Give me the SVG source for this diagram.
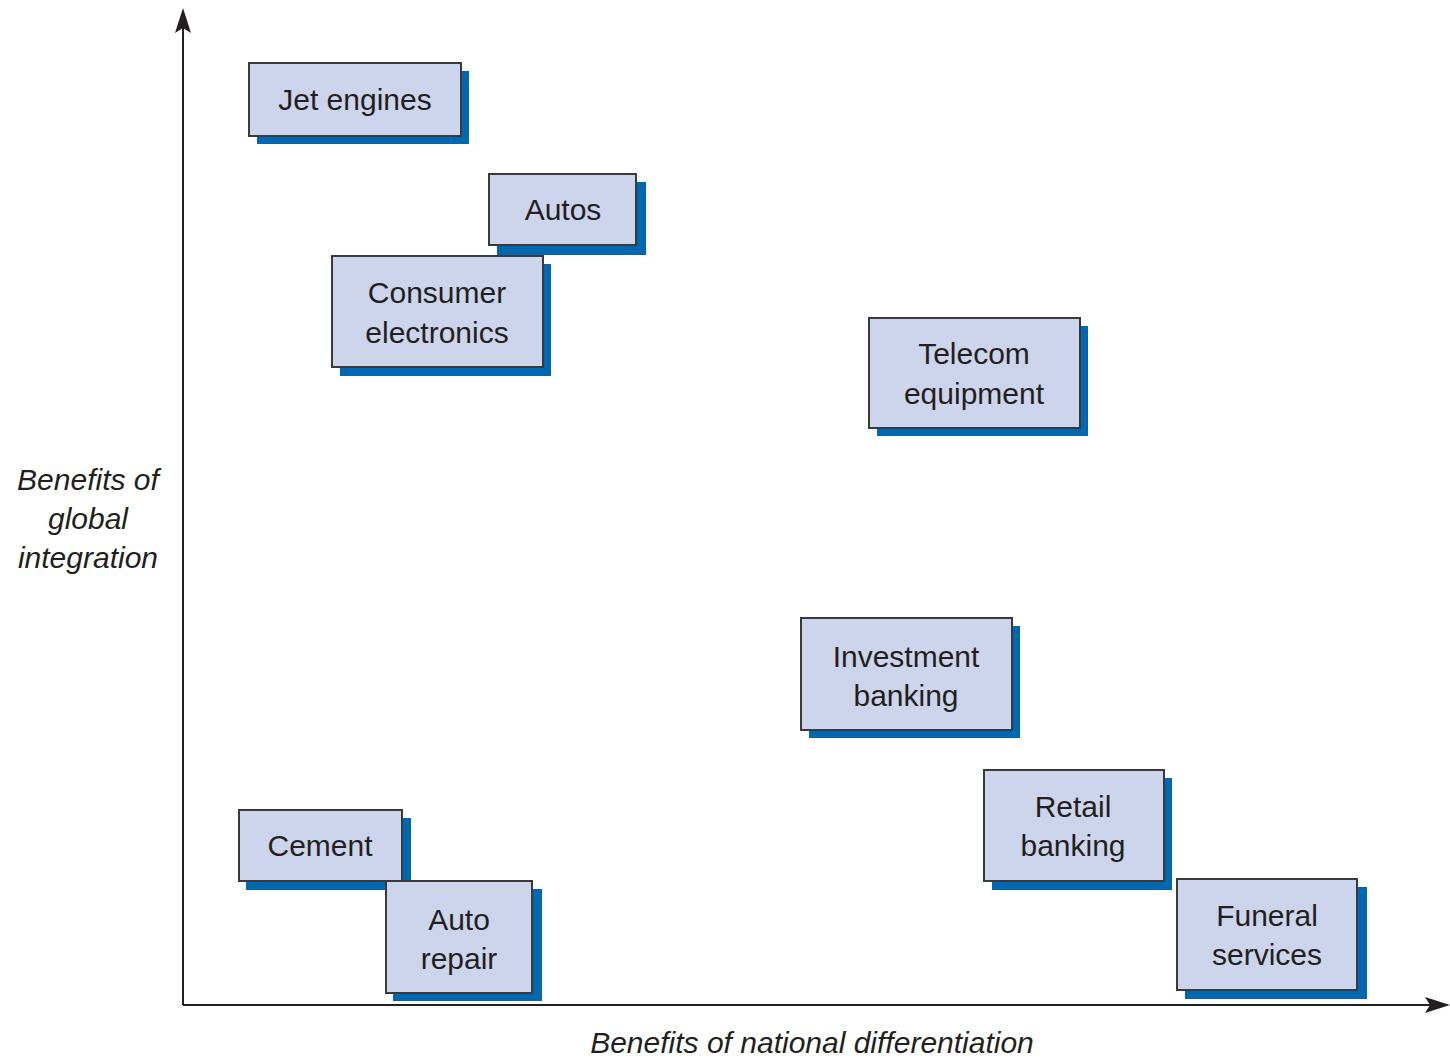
<svg xmlns="http://www.w3.org/2000/svg" width="1450" height="1059" viewBox="0 0 1450 1059">
<style>
.sh{fill:#0067b1}
.bx{fill:#cdd5ec;stroke:#3a3a3a;stroke-width:2}
.t{font-family:"Liberation Sans",Arial,sans-serif;font-size:30px;fill:#231f20;text-anchor:middle}
.ax{font-family:"Liberation Sans",Arial,sans-serif;font-size:30px;font-style:italic;fill:#231f20;text-anchor:middle}
.axis{stroke:#231f20;stroke-width:2;fill:none}
</style>
<rect width="1450" height="1059" fill="#fff"/>
<g id="axes">
<path class="axis" d="M183,1005 V20"/>
<path d="M183,8 L191,33 L183,28 L175,33 Z" fill="#231f20"/>
<path class="axis" d="M183,1005 H1438"/>
<path d="M1450,1005 L1425,997 L1430,1005 L1425,1013 Z" fill="#231f20"/>
</g>
<g id="jet-engines">
<rect class="sh" x="257" y="71" width="212" height="73"/>
<rect class="bx" x="249" y="63" width="212" height="73"/>
<text class="t" x="355" y="110">Jet engines</text>
</g>
<g id="autos">
<rect class="sh" x="497" y="182" width="149" height="73"/>
<rect class="bx" x="489" y="174" width="147" height="71"/>
<text class="t" x="563" y="220">Autos</text>
</g>
<g id="consumer-electronics">
<rect class="sh" x="340" y="264" width="211" height="112"/>
<rect class="bx" x="332" y="256" width="211" height="111"/>
<text class="t" x="437" y="303">Consumer</text>
<text class="t" x="437" y="343">electronics</text>
</g>
<g id="telecom-equipment">
<rect class="sh" x="877" y="326" width="211" height="110"/>
<rect class="bx" x="869" y="318" width="211" height="110"/>
<text class="t" x="974" y="364">Telecom</text>
<text class="t" x="974" y="404">equipment</text>
</g>
<g id="investment-banking">
<rect class="sh" x="809" y="626" width="211" height="112"/>
<rect class="bx" x="801" y="618" width="211" height="112"/>
<text class="t" x="906" y="667">Investment</text>
<text class="t" x="906" y="706">banking</text>
</g>
<g id="retail-banking">
<rect class="sh" x="992" y="778" width="180" height="112"/>
<rect class="bx" x="984" y="770" width="180" height="111"/>
<text class="t" x="1073" y="817">Retail</text>
<text class="t" x="1073" y="856">banking</text>
</g>
<g id="cement">
<rect class="sh" x="246" y="818" width="165" height="72"/>
<rect class="bx" x="239" y="810" width="163" height="71"/>
<text class="t" x="320" y="856">Cement</text>
</g>
<g id="auto-repair">
<rect class="sh" x="393" y="889" width="149" height="112"/>
<rect class="bx" x="386" y="881" width="146" height="112"/>
<text class="t" x="459" y="930">Auto</text>
<text class="t" x="459" y="969">repair</text>
</g>
<g id="funeral-services">
<rect class="sh" x="1185" y="887" width="182" height="112"/>
<rect class="bx" x="1177" y="879" width="180" height="111"/>
<text class="t" x="1267" y="926">Funeral</text>
<text class="t" x="1267" y="965">services</text>
</g>
<g id="labels">
<text class="ax" x="88" y="490">Benefits of</text>
<text class="ax" x="88" y="529">global</text>
<text class="ax" x="88" y="568">integration</text>
<text class="ax" x="812" y="1053">Benefits of national differentiation</text>
</g>
</svg>
